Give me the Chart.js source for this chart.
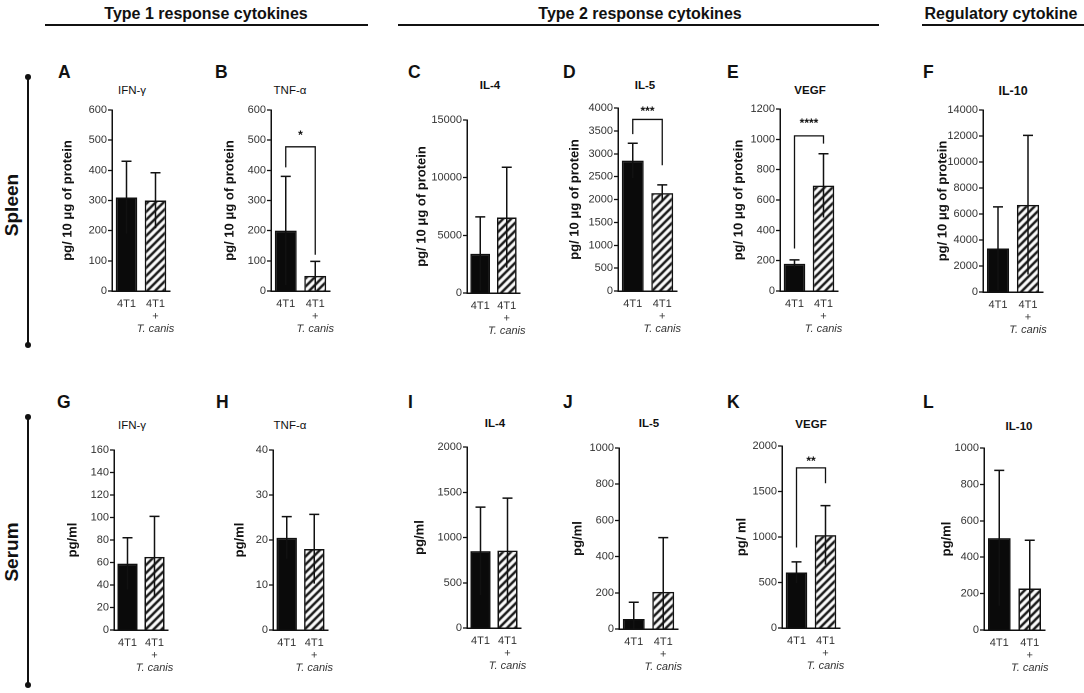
<!DOCTYPE html>
<html>
<head>
<meta charset="utf-8">
<script src="https://cdn.jsdelivr.net/npm/chart.js@4.4.1/dist/chart.umd.min.js"></script>
<style>
  html, body { margin: 0; padding: 0; background: #fff; }
  #fig { position: relative; width: 1084px; height: 693px; overflow: hidden; font-family: "Liberation Sans", Arial, sans-serif; color: #111; }
  .abs { position: absolute; white-space: nowrap; }
  .hdr { font-weight: bold; font-size: 16px; transform: translate(-50%, -50%); }
  .hline { position: absolute; height: 2px; background: #111; }
  .vline { position: absolute; width: 2px; background: #111; }
  .dot { position: absolute; width: 6px; height: 6px; border-radius: 50%; background: #111; }
  .side { font-weight: bold; font-size: 19px; transform: translate(-50%, -50%) rotate(-90deg); }
  .letter { font-weight: bold; font-size: 17.5px; transform: translateY(-50%); }
  .ttl { font-size: 11px; transform: translate(-50%, -50%); }
  canvas { position: absolute; }
</style>
</head>
<body>
<div id="fig"></div>
<script>
// figura: citocinas no baço (pg/10 µg de proteína) e no soro (pg/ml)

const groupLabels = [['4T1'], ['4T1', '+', 'T. canis']];
const panelLetters = ['A', 'B', 'C', 'D', 'E', 'F', 'G', 'H', 'I', 'J', 'K', 'L'];
const cytokines = ['IFN-γ', 'TNF-α', 'IL-4', 'IL-5', 'VEGF', 'IL-10', 'IFN-γ', 'TNF-α', 'IL-4', 'IL-5', 'VEGF', 'IL-10'];
const yTitles = ['pg/ 10 μg of protein', 'pg/ 10 μg of protein', 'pg/ 10 μg of protein', 'pg/ 10 μg of protein', 'pg/ 10 μg of protein', 'pg/ 10 μg of protein',
                 'pg/ml', 'pg/ml', 'pg/ml', 'pg/ml', 'pg/ ml', 'pg/ml'];

// médias e barras de erro
const mean4T1 = [310, 200, 3400, 2850, 180, 3350, 59, 20.5, 850, 55, 610, 505];
const err4T1 = [120, 180, 3200, 380, 25, 3200, 23, 4.7, 485, 93, 117, 372];
const meanTcanis = [300, 50, 6550, 2140, 695, 6700, 65, 18, 855, 205, 1020, 228];
const errTcanis = [92, 48, 4350, 180, 210, 5350, 36, 7.7, 580, 300, 325, 265];

// eixos
const yMax = [600, 600, 15000, 4000, 1200, 14000, 160, 40, 2000, 1000, 2000, 1000];
const yStep = [100, 100, 5000, 500, 200, 2000, 20, 10, 500, 200, 500, 200];

// significância (painéis B, D, E, K)
const sigPanels = [1, 3, 4, 10];
const sigLabels = ['*', '***', '****', '**'];
const sigTop = [478, 3750, 1023, 1760];
const sigLeftEnd = [410, 3430, 280, 885];
const sigRightEnd = [120, 2750, 972, 1590];
const sigTextAt = [522, 3960, 1115, 1850];

// posição de cada painel na figura (px)
const layout = [
  { x: 112, x2: 170, top: 110, zero: 291, off: 44, tx: 132, ty: 90, lx: 58, ly: 72, bold: false },
  { x: 271, x2: 330, top: 110, zero: 291, off: 41, tx: 290, ty: 90, lx: 215, ly: 72, bold: false },
  { x: 467, x2: 520, top: 120, zero: 293, off: 45, tx: 490, ty: 85, lx: 408, ly: 72, bold: true },
  { x: 618, x2: 677, top: 108, zero: 291, off: 43, tx: 645, ty: 85, lx: 563, ly: 72, bold: true },
  { x: 780, x2: 838, top: 109, zero: 291, off: 41, tx: 810, ty: 90, lx: 727, ly: 72, bold: true },
  { x: 983, x2: 1043, top: 110, zero: 292, off: 40, tx: 1013, ty: 91, lx: 923, ly: 72, bold: true },
  { x: 114, x2: 168, top: 450, zero: 630, off: 41, tx: 132, ty: 425, lx: 57, ly: 402, bold: false },
  { x: 273, x2: 328, top: 450, zero: 630, off: 33, tx: 290, ty: 425, lx: 216, ly: 402, bold: false },
  { x: 467, x2: 521, top: 447, zero: 628, off: 47, tx: 495, ty: 423, lx: 408, ly: 402, bold: true },
  { x: 619, x2: 678, top: 448, zero: 629, off: 41, tx: 649, ty: 423, lx: 563, ly: 402, bold: true },
  { x: 782, x2: 840, top: 446, zero: 628, off: 40, tx: 811, ty: 424, lx: 727, ly: 402, bold: true },
  { x: 984, x2: 1045, top: 448, zero: 630, off: 37, tx: 1019, ty: 426, lx: 923, ly: 402, bold: true }
];

const FONT = '"Liberation Sans", Arial, sans-serif';
const fig = document.getElementById('fig');

function addDiv(cls, text, css) {
  const d = document.createElement('div');
  d.className = cls;
  if (text) d.textContent = text;
  Object.assign(d.style, css);
  fig.appendChild(d);
  return d;
}

// cabeçalhos
addDiv('abs hdr', 'Type 1 response cytokines', { left: '206px', top: '14px' });
addDiv('hline', '', { left: '45px', top: '24px', width: '323px' });
addDiv('abs hdr', 'Type 2 response cytokines', { left: '640px', top: '14px' });
addDiv('hline', '', { left: '398px', top: '24px', width: '481px' });
addDiv('abs hdr', 'Regulatory cytokine', { left: '1001px', top: '14px' });
addDiv('hline', '', { left: '922px', top: '24px', width: '162px' });

// linhas laterais
addDiv('vline', '', { left: '27px', top: '77px', height: '268px' });
addDiv('dot', '', { left: '25px', top: '74px' });
addDiv('dot', '', { left: '25px', top: '342px' });
addDiv('abs side', 'Spleen', { left: '12px', top: '205px' });
addDiv('vline', '', { left: '27px', top: '417px', height: '268px' });
addDiv('dot', '', { left: '25px', top: '414px' });
addDiv('dot', '', { left: '25px', top: '682px' });
addDiv('abs side', 'Serum', { left: '12px', top: '552px' });

// padrão hachurado
function makeHatch() {
  const s = 8;
  const c = document.createElement('canvas');
  c.width = s; c.height = s;
  const g = c.getContext('2d');
  g.fillStyle = '#fff';
  g.fillRect(0, 0, s, s);
  g.strokeStyle = '#111';
  g.lineWidth = 2.4;
  g.beginPath();
  g.moveTo(-2, s + 2); g.lineTo(s + 2, -2);
  g.moveTo(-2 - s, s + 2); g.lineTo(2, -2);
  g.moveTo(s - 2, s + 2); g.lineTo(2 * s + 2, -2);
  g.stroke();
  return g.createPattern(c, 'repeat');
}
const hatch = makeHatch();

// barras de erro
const errorBars = {
  id: 'errorBars',
  afterDatasetsDraw(chart) {
    const p = chart.options.plugins.errorBars;
    const ys = chart.scales.y;
    const meta = chart.getDatasetMeta(0);
    const ctx = chart.ctx;
    ctx.save();
    ctx.strokeStyle = '#111';
    ctx.lineWidth = 1.5;
    meta.data.forEach((bar, i) => {
      const m = p.means[i], e = p.errs[i];
      const yTop = ys.getPixelForValue(m + e);
      const yLow = ys.getPixelForValue(Math.max(0, m - e));
      ctx.beginPath();
      ctx.moveTo(bar.x, yLow);
      ctx.lineTo(bar.x, yTop);
      ctx.moveTo(bar.x - 5, yTop);
      ctx.lineTo(bar.x + 5, yTop);
      ctx.stroke();
    });
    ctx.restore();
  }
};

// colchete de significância
const sigBracket = {
  id: 'sigBracket',
  afterDatasetsDraw(chart) {
    const p = chart.options.plugins.sigBracket;
    if (!p || !p.label) return;
    const ys = chart.scales.y;
    const meta = chart.getDatasetMeta(0);
    const x0 = meta.data[0].x, x1 = meta.data[1].x;
    const ctx = chart.ctx;
    ctx.save();
    ctx.strokeStyle = '#111';
    ctx.lineWidth = 1.3;
    ctx.beginPath();
    ctx.moveTo(x0, ys.getPixelForValue(p.left));
    ctx.lineTo(x0, ys.getPixelForValue(p.top));
    ctx.lineTo(x1, ys.getPixelForValue(p.top));
    ctx.lineTo(x1, ys.getPixelForValue(p.right));
    ctx.stroke();
    ctx.fillStyle = '#111';
    ctx.font = 'bold 12px ' + FONT;
    ctx.textAlign = 'center';
    ctx.textBaseline = 'middle';
    ctx.fillText(p.label, (x0 + x1) / 2, ys.getPixelForValue(p.text) + 2);
    ctx.restore();
  }
};

// rótulos do eixo x (com "T. canis" em itálico)
const groupTicks = {
  id: 'groupTicks',
  afterDraw(chart) {
    const xs = chart.scales.x;
    const base = chart.chartArea.bottom;
    const ctx = chart.ctx;
    ctx.save();
    ctx.fillStyle = '#333';
    ctx.textAlign = 'center';
    ctx.textBaseline = 'middle';
    groupLabels.forEach((lines, i) => {
      const x = xs.getPixelForValue(i);
      lines.forEach((t, j) => {
        ctx.font = (j === 2 ? 'italic ' : '') + '11px ' + FONT;
        ctx.fillText(t, x, base + 13 + j * 12.5);
      });
    });
    ctx.restore();
  }
};

layout.forEach((L, i) => {
  addDiv('abs letter', panelLetters[i], { left: L.lx + 'px', top: L.ly + 'px' });
  addDiv('abs ttl', cytokines[i], {
    left: L.tx + 'px', top: L.ty + 'px',
    fontWeight: L.bold ? 'bold' : 'normal',
    fontSize: i === 5 ? '12.5px' : '11.5px'
  });

  const padTop = 12, padBottom = 50;
  const left = L.x - L.off - 8;
  const top = L.top - padTop;
  const w = L.x2 - left + 6;
  const h = L.zero - top + padBottom;
  const cv = document.createElement('canvas');
  cv.style.left = left + 'px';
  cv.style.top = top + 'px';
  cv.style.width = w + 'px';
  cv.style.height = h + 'px';
  fig.appendChild(cv);

  const s = sigPanels.indexOf(i);
  const means = [mean4T1[i], meanTcanis[i]];
  const errs = [err4T1[i], errTcanis[i]];

  new Chart(cv, {
    type: 'bar',
    data: {
      labels: groupLabels.map(g => g.join(' ')),
      datasets: [{
        data: means,
        backgroundColor: ['#0a0a0a', hatch],
        borderColor: '#111',
        borderWidth: 1.5,
        barPercentage: 0.74,
        categoryPercentage: 1
      }]
    },
    options: {
      responsive: false,
      animation: false,
      devicePixelRatio: 2,
      layout: { padding: { top: padTop, bottom: padBottom, left: 0, right: 6 } },
      plugins: {
        legend: { display: false },
        tooltip: { enabled: false },
        errorBars: { means: means, errs: errs },
        sigBracket: s >= 0 ? { label: sigLabels[s], top: sigTop[s], left: sigLeftEnd[s], right: sigRightEnd[s], text: sigTextAt[s] } : {}
      },
      scales: {
        x: {
          grid: { display: false, drawTicks: false },
          border: { color: '#111', width: 1.5 },
          ticks: { display: false }
        },
        y: {
          min: 0,
          max: yMax[i],
          afterFit(scale) { scale.width = L.off + 8; },
          ticks: {
            stepSize: yStep[i], color: '#333', padding: 1,
            font: { family: FONT, size: 11 },
            callback: v => String(v)
          },
          grid: { drawOnChartArea: false, drawTicks: true, tickLength: 4, tickColor: '#111', tickWidth: 1.3 },
          border: { color: '#111', width: 1.5 },
          title: { display: true, text: yTitles[i], color: '#111', padding: { top: 0.2, bottom: 0 }, font: { family: FONT, size: 13, weight: 'bold' } }
        }
      }
    },
    plugins: [errorBars, sigBracket, groupTicks]
  });
});
</script>
</body>
</html>
